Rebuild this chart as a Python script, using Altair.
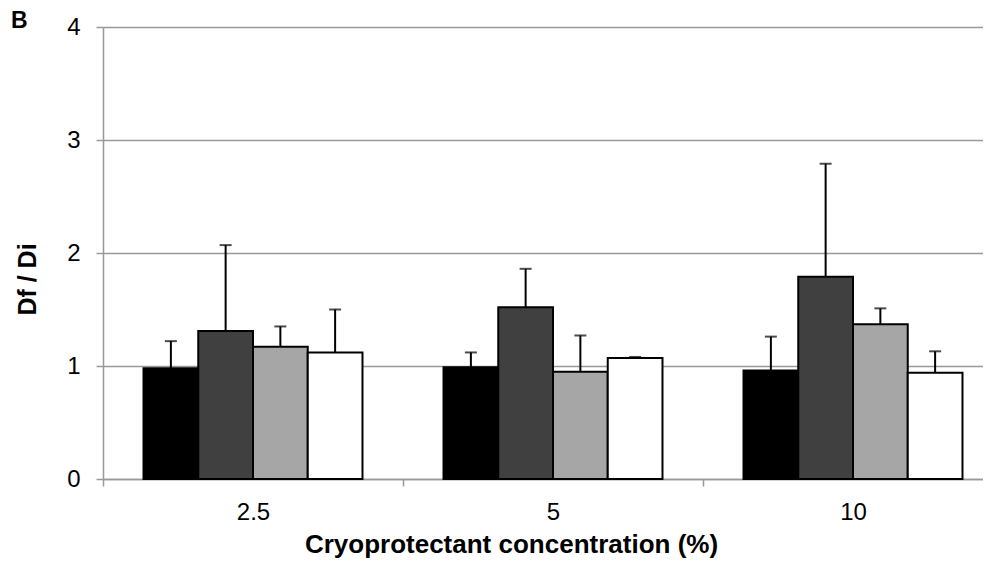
import altair as alt
import pandas as pd

groups = ["2.5", "5", "10"]
series = ["S1", "S2", "S3", "S4"]
colors = ["#000000", "#404040", "#a6a6a6", "#ffffff"]

means_25 = [0.98, 1.31, 1.17, 1.12]
means_5 = [0.99, 1.52, 0.95, 1.07]
means_10 = [0.96, 1.79, 1.37, 0.94]
errs_25 = [0.24, 0.76, 0.18, 0.38]
errs_5 = [0.13, 0.34, 0.32, 0.01]
errs_10 = [0.30, 1.00, 0.14, 0.19]

rows = []
for g, ms, es in zip(groups, [means_25, means_5, means_10], [errs_25, errs_5, errs_10]):
    for s, m, e in zip(series, ms, es):
        rows.append({"conc": g, "series": s, "mean": m, "top": m + e})
df = pd.DataFrame(rows)

FONT = "Liberation Sans"
GRID = "#999999"

x = alt.X(
    "conc:N",
    sort=groups,
    scale=alt.Scale(paddingInner=0, paddingOuter=0),
    axis=alt.Axis(
        title="Cryoprotectant concentration (%)",
        labelAngle=0,
        tickBand="extent",
        tickSize=7,
        tickColor=GRID,
        tickWidth=1.5,
        domainColor=GRID,
        domainWidth=1.5,
        labelFontSize=24,
        labelPadding=14,
        labelColor="black",
        titleFontSize=26,
        titleFontWeight="bold",
        titleColor="black",
        titleX=408,
        titleY=73,
        titleAlign="center",
        titleBaseline="alphabetic",
    ),
)
xo = alt.XOffset("series:N", sort=series, scale=alt.Scale(paddingOuter=0.74, paddingInner=0))

bars = alt.Chart(df).mark_bar(stroke="black", strokeWidth=2).encode(
    x=x,
    xOffset=xo,
    y=alt.Y(
        "mean:Q",
        scale=alt.Scale(domain=[0, 4]),
        axis=alt.Axis(
            title="Df / Di",
            values=[0, 1, 2, 3, 4],
            format="d",
            grid=True,
            gridColor=GRID,
            gridWidth=1.5,
            tickSize=7,
            tickColor=GRID,
            tickWidth=1.5,
            domainColor=GRID,
            domainWidth=1.5,
            labelFontSize=24,
            labelPadding=16,
            labelColor="black",
            titleFontSize=25,
            titleFontWeight="bold",
            titleColor="black",
            titleX=-68,
            titleY=252,
            titleAngle=270,
            titleAlign="center",
            titleBaseline="alphabetic",
        ),
    ),
    color=alt.Color("series:N", sort=series, scale=alt.Scale(domain=series, range=colors), legend=None),
)

err = alt.Chart(df).mark_rule(color="black", strokeWidth=2).encode(
    x=alt.X("conc:N", sort=groups), xOffset=xo, y="mean:Q", y2="top:Q"
)
caps = alt.Chart(df).mark_tick(color="black", thickness=2, size=12).encode(
    x=alt.X("conc:N", sort=groups), xOffset=xo, y="top:Q"
)

label = alt.Chart(pd.DataFrame({"t": ["B"]})).mark_text(
    font=FONT, fontSize=23, fontWeight="bold", align="left", baseline="alphabetic", color="black"
).encode(text="t:N", x=alt.value(-92), y=alt.value(1))

chart = (
    alt.layer(bars, err, caps, label)
    .properties(
        width=900,
        height=452,
        autosize=alt.AutoSizeParams(type="none"),
        padding={"left": 95, "top": 19, "right": -20, "bottom": 86},
    )
    .configure_view(stroke=None)
    .configure_axis(labelFont=FONT, titleFont=FONT)
)

chart.save("out.html", embed_options={"renderer": "svg", "actions": False})
